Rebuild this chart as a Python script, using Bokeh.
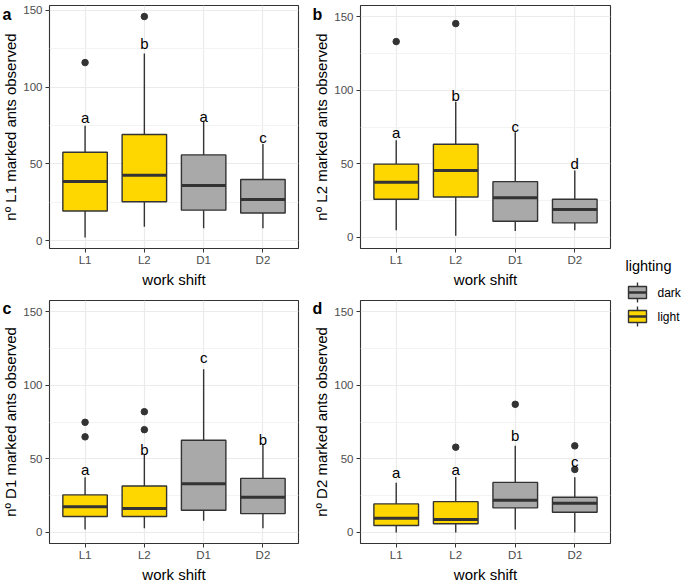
import math
from bokeh.plotting import figure
from bokeh.models import FixedTicker, Range1d
from bokeh.layouts import row, column
from bokeh.embed import file_html
from bokeh.resources import INLINE
from bokeh.core.properties import value

# ---------------- data ----------------
shifts = ["L1", "L2", "D1", "D2"]
lighting = ["light", "light", "dark", "dark"]
light_colors = {"light": "#FFD700", "dark": "#A9A9A9"}

legend_title = "lighting"
legend_labels = ["dark", "light"]

panel_letters = ["a", "b", "c", "d"]
y_titles = ["nº L1 marked ants observed", "nº L2 marked ants observed",
            "nº D1 marked ants observed", "nº D2 marked ants observed"]
x_title = "work shift"
y_ticks = [0, 50, 100, 150]
y_minor = [25, 75, 125]

# panel a (L1 marked ants)
a_low = [2, 9, 8, 8]
a_q1 = [19.2, 25.3, 19.8, 17.9]
a_med = [38.5, 42.5, 35.9, 26.8]
a_q3 = [57.5, 69.1, 55.8, 39.8]
a_high = [74.8, 121.9, 78, 62.9]
a_out_shift = ["L1", "L2"]
a_out_val = [116, 146]
a_sig = ["a", "b", "a", "c"]
a_sig_y = [77.6, 125.5, 78, 64.6]

# panel b (L2 marked ants)
b_low = [4.9, 1.1, 4.3, 4.9]
b_q1 = [25.9, 27.5, 11, 9.9]
b_med = [37.4, 45.5, 27, 18.9]
b_q3 = [49.8, 63.3, 37.9, 25.9]
b_high = [66, 92.2, 71.5, 45.5]
b_out_shift = ["L1", "L2"]
b_out_val = [133, 145.2]
b_sig = ["a", "b", "c", "d"]
b_sig_y = [68.5, 93.6, 72.6, 47.4]

# panel c (D1 marked ants)
c_low = [2, 2.9, 7.9, 2.9]
c_q1 = [10.8, 10.8, 15.1, 12.8]
c_med = [17.4, 16.2, 33.1, 23.9]
c_q3 = [25.5, 31.5, 62.6, 36.7]
c_high = [37.4, 52.7, 110.8, 59.5]
c_out_shift = ["L1", "L1", "L2", "L2"]
c_out_val = [74.8, 64.9, 82, 69.8]
c_sig = ["a", "b", "c", "b"]
c_sig_y = [40.3, 53.4, 115.8, 60.1]

# panel d (D2 marked ants)
d_low = [0, 0, 2, 0]
d_q1 = [4.7, 5.9, 16.7, 13.7]
d_med = [9.7, 8.8, 21.8, 19.8]
d_q3 = [19.4, 20.9, 34, 23.9]
d_high = [33.8, 37.6, 58.8, 37.4]
d_out_shift = ["L2", "D1", "D2", "D2"]
d_out_val = [57.9, 87, 58.8, 42.8]
d_sig = ["a", "a", "b", "c"]
d_sig_y = [38.1, 40.3, 63.3, 45.5]

y_range_a = (-5.2, 153.2)
y_range_common = (-7.5, 157.5)

# ---------------- layout constants (px) ----------------
FONT = "Liberation Sans"
EDGE = "#333333"
BOX_W = 0.75
TXT_DY = -4           # baseline correction for alphabetic text

FH = 243
ROW1_TOP, ROW1_BOT = 5, 44
ROW2_TOP, ROW2_BOT = 8, 37
TOTAL_H = ROW1_TOP + FH + ROW1_BOT + ROW2_TOP + FH + ROW2_BOT   # 580
FRAME1_TOP = ROW1_TOP
FRAME2_TOP = ROW1_TOP + FH + ROW1_BOT + ROW2_TOP


def make_panel(low, q1, med, q3, high, out_s, out_v, sig, sig_y,
               yr, fw, bl, br, bt, bb):
    pos = {s: i + 1 for i, s in enumerate(shifts)}
    xs = [pos[s] for s in shifts]
    fills = [light_colors[l] for l in lighting]

    p = figure(frame_width=fw, frame_height=FH,
               x_range=Range1d(0.4, 4.6), y_range=Range1d(*yr),
               output_backend="svg", toolbar_location=None, title=None,
               min_border_left=bl, min_border_right=br,
               min_border_top=bt, min_border_bottom=bb,
               background_fill_color="white", border_fill_color="white")
    p.outline_line_color = EDGE
    p.outline_line_width = 1.1

    p.xaxis.ticker = FixedTicker(ticks=xs)
    p.xaxis.major_label_overrides = {x: s for x, s in zip(xs, shifts)}
    p.yaxis.ticker = FixedTicker(ticks=y_ticks, minor_ticks=y_minor)
    for ax in (p.xaxis[0], p.yaxis[0]):
        ax.axis_line_color = None
        ax.major_tick_line_color = EDGE
        ax.major_tick_line_width = 1
        ax.major_tick_out = 4
        ax.major_tick_in = 0
        ax.minor_tick_line_color = None
        ax.major_label_text_font = FONT
        ax.major_label_text_font_size = "11.5px"
        ax.major_label_text_color = "#4D4D4D"
        ax.axis_label_text_font = FONT
        ax.axis_label_text_font_size = "15px"
        ax.axis_label_text_font_style = "normal"
        ax.axis_label_text_color = "black"
        ax.axis_label_standoff = 2
    p.xaxis.major_label_standoff = 1
    p.yaxis.major_label_standoff = 3
    p.xaxis.axis_label = x_title

    p.xgrid.ticker = FixedTicker(ticks=xs)
    p.ygrid.ticker = FixedTicker(ticks=y_ticks, minor_ticks=y_minor)
    p.xgrid.grid_line_color = "#EBEBEB"
    p.ygrid.grid_line_color = "#EBEBEB"
    p.xgrid.grid_line_width = 1.2
    p.ygrid.grid_line_width = 1.2
    p.ygrid.minor_grid_line_color = "#F3F3F3"
    p.ygrid.minor_grid_line_width = 1

    p.segment(x0=xs, y0=q3, x1=xs, y1=high, line_color=EDGE, line_width=1.4)
    p.segment(x0=xs, y0=q1, x1=xs, y1=low, line_color=EDGE, line_width=1.4)
    p.vbar(x=xs, width=BOX_W, bottom=q1, top=q3, fill_color=fills,
           line_color=EDGE, line_width=1.4)
    p.segment(x0=[x - BOX_W / 2 for x in xs], y0=med,
              x1=[x + BOX_W / 2 for x in xs], y1=med,
              line_color=EDGE, line_width=3)
    p.scatter(x=[pos[s] for s in out_s], y=out_v, size=6.5,
              fill_color=EDGE, line_color=EDGE)
    p.text(x=xs, y=sig_y, text=sig, text_align="center",
           text_baseline="alphabetic", text_font=value(FONT),
           text_font_size="15px", text_color="black", y_offset=TXT_DY)
    return p


def make_gutter(width, letters, letter_x, title_pair, title_x):
    """Strip left of a panel column holding panel tags and y-axis titles."""
    g = figure(frame_width=width, frame_height=TOTAL_H,
               x_range=Range1d(0, width), y_range=Range1d(TOTAL_H, 0),
               output_backend="svg", toolbar_location=None, title=None,
               min_border=0, outline_line_color=None,
               background_fill_color="white", border_fill_color="white")
    g.axis.visible = False
    g.grid.visible = False
    tag_base = [FRAME1_TOP + 12.5, FRAME2_TOP + 12]
    g.text(x=[letter_x] * 2, y=tag_base, text=letters, text_font=value(FONT),
           text_font_size="16px", text_font_style="bold",
           text_baseline="alphabetic", text_align="left", text_color="black",
           y_offset=TXT_DY)
    centers = [FRAME1_TOP + FH / 2, FRAME2_TOP + FH / 2]
    g.text(x=[title_x] * 2, y=centers, text=title_pair, angle=math.pi / 2,
           text_font=value(FONT), text_font_size="15px",
           text_baseline="middle", text_align="center", text_color="black")
    return g


pa = make_panel(a_low, a_q1, a_med, a_q3, a_high, a_out_shift, a_out_val,
                a_sig, a_sig_y, y_range_a, 249, 28, 5, ROW1_TOP, ROW1_BOT)
pb = make_panel(b_low, b_q1, b_med, b_q3, b_high, b_out_shift, b_out_val,
                b_sig, b_sig_y, y_range_common, 250, 27, 8, ROW1_TOP, ROW1_BOT)
pc = make_panel(c_low, c_q1, c_med, c_q3, c_high, c_out_shift, c_out_val,
                c_sig, c_sig_y, y_range_common, 249, 28, 5, ROW2_TOP, ROW2_BOT)
pd = make_panel(d_low, d_q1, d_med, d_q3, d_high, d_out_shift, d_out_val,
                d_sig, d_sig_y, y_range_common, 250, 27, 8, ROW2_TOP, ROW2_BOT)

gl = make_gutter(20, [panel_letters[0], panel_letters[2]], 2,
                 [y_titles[0], y_titles[2]], 10)
gm = make_gutter(28, [panel_letters[1], panel_letters[3]], 9,
                 [y_titles[1], y_titles[3]], 17.5)

# ---------------- legend panel ----------------
LW = 68
leg = figure(frame_width=LW, frame_height=TOTAL_H, x_range=Range1d(0, LW),
             y_range=Range1d(TOTAL_H, 0), output_backend="svg",
             toolbar_location=None, title=None, min_border=0,
             outline_line_color=None,
             background_fill_color="white", border_fill_color="white")
leg.axis.visible = False
leg.grid.visible = False

key_cx = 19
key_cy = [292, 316]
key_w, key_h, whisk = 18, 12, 4
leg_fills = [light_colors[l] for l in legend_labels]

leg.text(x=[7], y=[269], text=[legend_title], text_font=value(FONT),
         text_font_size="14.5px", text_baseline="alphabetic", text_align="left",
         text_color="black", y_offset=TXT_DY)
leg.segment(x0=[key_cx] * 2, x1=[key_cx] * 2,
            y0=[c - key_h / 2 - whisk for c in key_cy],
            y1=[c + key_h / 2 + whisk for c in key_cy],
            line_color=EDGE, line_width=1.4)
leg.rect(x=[key_cx] * 2, y=key_cy, width=key_w, height=key_h,
         fill_color=leg_fills, line_color=EDGE, line_width=1.4)
leg.segment(x0=[key_cx - key_w / 2] * 2, x1=[key_cx + key_w / 2] * 2,
            y0=key_cy, y1=key_cy, line_color=EDGE, line_width=2.5)
leg.text(x=[39] * 2, y=key_cy, text=legend_labels, text_font=value(FONT),
         text_font_size="12px", text_baseline="middle", text_align="left",
         text_color="black")

layout = row(gl, column(pa, pc), gm, column(pb, pd), leg)

open("out.html", "w").write(file_html(layout, INLINE))
